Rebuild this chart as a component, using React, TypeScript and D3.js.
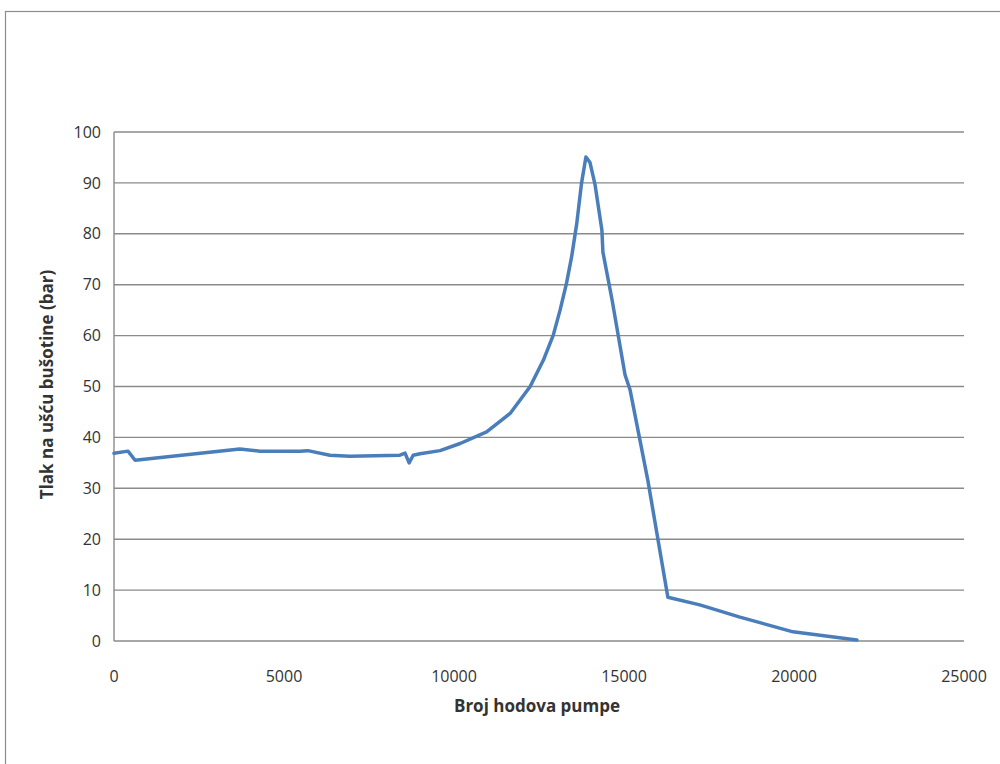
import React from "react";
import * as d3 from "d3";

const strokes: number[] = [0, 412, 620, 3700, 4300, 5470, 5700, 6350, 6940, 8410, 8560, 8680, 8800, 9000, 9590, 10180, 10960, 11650, 12240, 12630, 12920, 13120, 13310, 13460, 13610, 13750, 13880, 14000, 14150, 14350, 14380, 14650, 15030, 15180, 15700, 16290, 17230, 18410, 19970, 21850];
const pressure: number[] = [36.9, 37.3, 35.5, 37.7, 37.3, 37.3, 37.4, 36.5, 36.3, 36.5, 36.9, 35.0, 36.5, 36.8, 37.4, 38.8, 41.1, 44.7, 50.0, 55.2, 60.1, 65.0, 70.3, 75.5, 82.0, 89.9, 95.1, 94.0, 89.6, 80.7, 76.4, 67.0, 52.3, 49.3, 31.6, 8.6, 7.1, 4.7, 1.8, 0.2];
const xTicks: number[] = [0, 5000, 10000, 15000, 20000, 25000];
const yTicks: number[] = [0, 10, 20, 30, 40, 50, 60, 70, 80, 90, 100];
const xTitle = "Broj hodova pumpe";
const yTitle = "Tlak na ušću bušotine (bar)";

export default function App() {
  const W = 1000, H = 764;
  const left = 114, right = 964, top = 132, bottom = 641;
  const x = d3.scaleLinear().domain([0, 25000]).range([left, right]);
  const y = d3.scaleLinear().domain([0, 100]).range([bottom, top]);
  const pts = strokes.map((s, i) => [s, pressure[i]] as [number, number]);
  const line = d3.line<[number, number]>().x(d => x(d[0])).y(d => y(d[1])).curve(d3.curveLinear);
  const font = "'Open Sans', 'DejaVu Sans', sans-serif";
  return (
    <svg width={W} height={H} style={{ position: "absolute", left: 0, top: 0, background: "#fff" }}>
      <rect x={0} y={0} width={W} height={H} fill="#fff" />
      <rect x={5.5} y={11.5} width={W + 20} height={H + 20} fill="none" stroke="#8c8c8c" strokeWidth={1.2} />
      {yTicks.map(t => (
        <g key={t}>
          <line x1={left} x2={right} y1={y(t)} y2={y(t)} stroke="#8a8a8a" strokeWidth={1.4} />
          <text x={101} y={y(t)} dy="0.35em" textAnchor="end" fontFamily={font} fontSize={16} fill="#333">{t}</text>
        </g>
      ))}
      <line x1={left} x2={left} y1={top} y2={bottom} stroke="#8a8a8a" strokeWidth={1.4} />
      {xTicks.map(t => (
        <text key={t} x={x(t)} y={676} dy="0.35em" textAnchor="middle" fontFamily={font} fontSize={16} fill="#333">{t}</text>
      ))}
      <text x={537} y={706} dy="0.35em" textAnchor="middle" fontFamily={font} fontSize={17} fontWeight="bold" fill="#333">{xTitle}</text>
      <text transform={`translate(47, ${(top + bottom) / 2 - 2}) rotate(-90)`} dy="0.35em" textAnchor="middle" fontFamily={font} fontSize={17} fontWeight="bold" fill="#333">{yTitle}</text>
      <path d={line(pts) || ""} fill="none" stroke="#4a7ebb" strokeWidth={3.5} strokeLinejoin="round" strokeLinecap="round" />
    </svg>
  );
}
